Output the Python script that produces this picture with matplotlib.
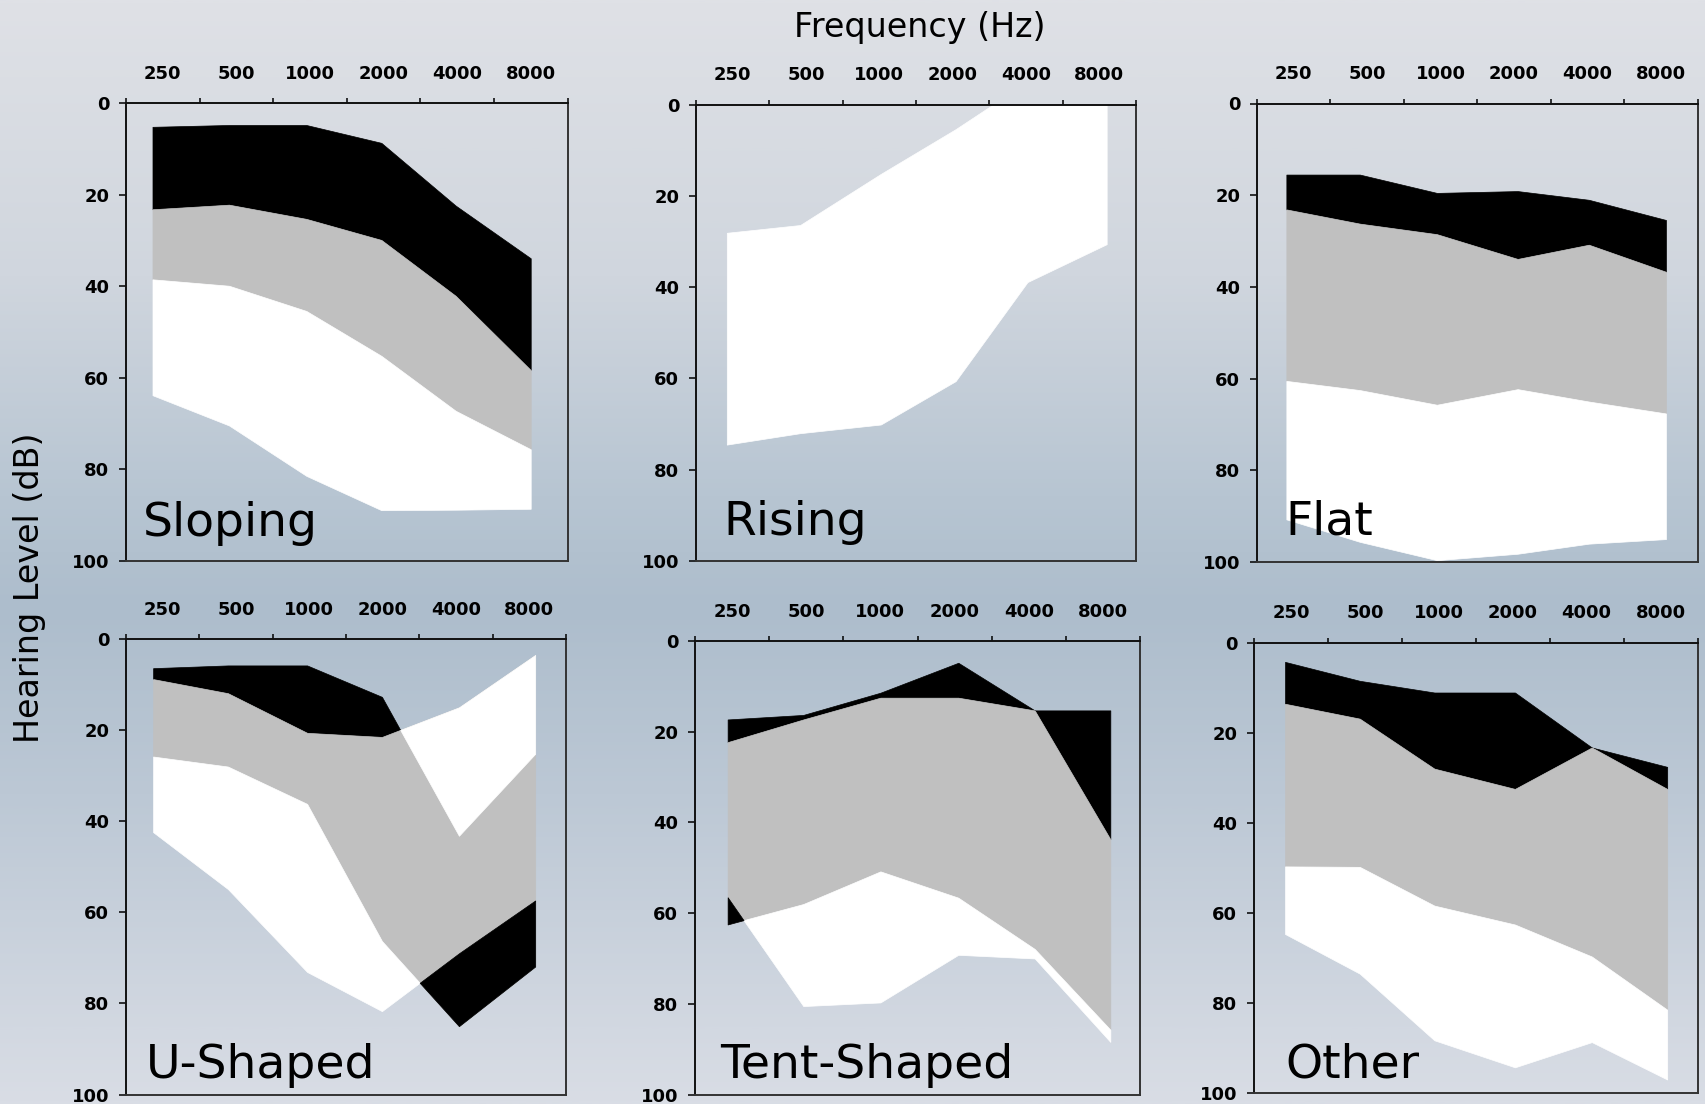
import matplotlib.pyplot as plt
import numpy as np
from matplotlib.colors import LinearSegmentedColormap

FIG_W, FIG_H = 1705, 1104

FREQ_LABELS = ['250', '500', '1000', '2000', '4000', '8000']
DB_TICKS = [0, 20, 40, 60, 80, 100]

# audiogram bands: each panel has x positions (octave slots) and band edges in dB HL
SLOPING_X = [0.36, 1.40, 2.45, 3.47, 4.48, 5.50]
SLOPING_BLACK_TOP = [5.2, 4.8, 4.8, 8.7, 22.4, 33.9]
SLOPING_GRAY_TOP = [23.2, 22.2, 25.3, 29.9, 42.1, 58.3]
SLOPING_WHITE_TOP = [38.5, 39.9, 45.4, 55.2, 67.2, 75.6]
SLOPING_WHITE_BOTTOM = [63.8, 70.4, 81.4, 88.9, 88.8, 88.6]

RISING_X = [0.42, 1.42, 2.52, 3.54, 4.52, 5.60]
RISING_WHITE_TOP = [28.1, 26.4, 15.2, 5.4, -5.0, -15.0]
RISING_WHITE_BOTTOM = [74.5, 72.0, 70.1, 60.6, 38.9, 30.6]

FLAT_X = [0.40, 1.40, 2.45, 3.55, 4.52, 5.57]
FLAT_BLACK_TOP = [15.5, 15.5, 19.5, 19.1, 21.0, 25.4]
FLAT_GRAY_TOP = [23.1, 26.2, 28.5, 33.9, 30.8, 36.7]
FLAT_WHITE_TOP = [60.5, 62.5, 65.7, 62.3, 65.0, 67.6]
FLAT_WHITE_BOTTOM = [90.7, 95.6, 99.6, 98.2, 96.0, 95.0]

USHAPED_X = [0.37, 1.39, 2.47, 3.49, 4.54, 5.58]
USHAPED_BLACK_TOP = [6.4, 5.8, 5.8, 12.7, 43.2, 25.2]
USHAPED_GRAY_TOP = [8.8, 11.9, 20.6, 21.5, 15.0, 3.5]
USHAPED_WHITE_TOP = [25.8, 28.0, 36.2, 66.3, 85.0, 71.9]
USHAPED_WHITE_BOTTOM = [42.4, 54.9, 73.1, 81.7, 69.0, 57.4]

TENT_X = [0.44, 1.46, 2.50, 3.55, 4.58, 5.60]
TENT_BLACK_TOP = [17.3, 16.3, 11.4, 4.8, 15.3, 15.3]
TENT_GRAY_TOP = [22.3, 17.3, 12.5, 12.5, 15.3, 43.7]
TENT_WHITE_TOP = [62.5, 58.0, 50.8, 56.6, 67.9, 85.7]
TENT_WHITE_BOTTOM = [56.5, 80.5, 79.7, 69.2, 70.0, 88.4]

OTHER_X = [0.42, 1.43, 2.44, 3.53, 4.57, 5.59]
OTHER_BLACK_TOP = [4.3, 8.5, 11.1, 11.1, 23.3, 27.6]
OTHER_GRAY_TOP = [13.6, 16.9, 28.0, 32.5, 23.3, 32.5]
OTHER_WHITE_TOP = [49.7, 49.8, 58.4, 62.6, 69.7, 81.5]
OTHER_WHITE_BOTTOM = [64.7, 73.5, 88.3, 94.3, 88.7, 97.0]

GRAY = '#c0c0c0'
THREE_BANDS = [('black', 'white'), (GRAY, GRAY), ('white', 'black')]


def draw_bands(ax, x, edges, fills):
    x = np.asarray(x)
    crossed = []
    for upper, lower, (colour, flipped) in zip(edges[:-1], edges[1:], fills):
        upper = np.asarray(upper, dtype=float)
        lower = np.asarray(lower, dtype=float)
        ax.fill_between(x, upper, lower, where=lower >= upper, interpolate=True,
                        facecolor=colour, edgecolor=colour, lw=0.5, zorder=1)
        if np.any(lower < upper):
            crossed.append((upper, lower, flipped))
    # where two edges swap order the band shows the other colour on top
    for upper, lower, flipped in crossed:
        ax.fill_between(x, upper, lower, where=lower < upper, interpolate=True,
                        facecolor=flipped, edgecolor=flipped, lw=0.5, zorder=2)


def style_axes(ax):
    ax.set_facecolor('none')
    ax.set_xlim(0, 6)
    ax.set_ylim(100, 0)
    ax.xaxis.tick_top()
    ax.set_xticks(np.arange(7))
    ax.set_xticklabels([])
    ax.set_xticks(np.arange(6) + 0.5, minor=True)
    ax.set_xticklabels(FREQ_LABELS, minor=True, fontsize=13, fontweight='bold')
    ax.tick_params(axis='x', which='major', top=True, bottom=False,
                   direction='out', length=3.5, width=1.1)
    ax.tick_params(axis='x', which='minor', top=True, bottom=False,
                   length=0, pad=14.5)
    ax.set_yticks(DB_TICKS)
    ax.set_yticklabels([str(v) for v in DB_TICKS], fontsize=13, fontweight='bold')
    ax.tick_params(axis='y', which='major', direction='out', length=5,
                   width=1.1, pad=7)
    for side in ['left', 'top']:
        ax.spines[side].set_linewidth(1.4)
        ax.spines[side].set_color('#111111')
    for side in ['right', 'bottom']:
        ax.spines[side].set_linewidth(1.4)
        ax.spines[side].set_color('#333333')


def add_axes_px(fig, left, top, right, bottom):
    return fig.add_axes([left / FIG_W, 1 - bottom / FIG_H,
                         (right - left) / FIG_W, (bottom - top) / FIG_H])


fig = plt.figure(figsize=(FIG_W / 100, FIG_H / 100), dpi=100)

# slide-style background gradient
bg = fig.add_axes([0, 0, 1, 1], zorder=-10)
bg_cmap = LinearSegmentedColormap.from_list('slide', [
    (0.0, '#dfe1e6'),
    (0.25, '#d0d6de'),
    (0.45, '#b7c5d2'),
    (0.55, '#adbdcc'),
    (0.72, '#bcc8d5'),
    (1.0, '#d9dde5'),
])
bg.imshow(np.linspace(0, 1, 512).reshape(-1, 1), cmap=bg_cmap, aspect='auto',
          extent=[0, 1, 0, 1], origin='upper')
bg.axis('off')

panels = [
    ('Sloping', (126, 103, 567.5, 561), SLOPING_X,
     [SLOPING_BLACK_TOP, SLOPING_GRAY_TOP, SLOPING_WHITE_TOP, SLOPING_WHITE_BOTTOM],
     THREE_BANDS, (0.23, 94.5)),
    ('Rising', (696, 104.5, 1136, 561), RISING_X,
     [RISING_WHITE_TOP, RISING_WHITE_BOTTOM],
     [('white', 'white')], (0.38, 94.2)),
    ('Flat', (1257, 103.5, 1697.5, 562), FLAT_X,
     [FLAT_BLACK_TOP, FLAT_GRAY_TOP, FLAT_WHITE_TOP, FLAT_WHITE_BOTTOM],
     THREE_BANDS, (0.39, 94.0)),
    ('U-Shaped', (126, 639, 566, 1094.5), USHAPED_X,
     [USHAPED_BLACK_TOP, USHAPED_GRAY_TOP, USHAPED_WHITE_TOP, USHAPED_WHITE_BOTTOM],
     THREE_BANDS, (0.27, 96.4)),
    ('Tent-Shaped', (695, 641, 1140, 1094.5), TENT_X,
     [TENT_BLACK_TOP, TENT_GRAY_TOP, TENT_WHITE_TOP, TENT_WHITE_BOTTOM],
     THREE_BANDS, (0.34, 96.4)),
    ('Other', (1254, 642.5, 1697.5, 1093), OTHER_X,
     [OTHER_BLACK_TOP, OTHER_GRAY_TOP, OTHER_WHITE_TOP, OTHER_WHITE_BOTTOM],
     THREE_BANDS, (0.42, 96.6)),
]

for name, box, x, edges, fills, label_pos in panels:
    ax = add_axes_px(fig, *box)
    style_axes(ax)
    draw_bands(ax, x, edges, fills)
    ax.text(label_pos[0], label_pos[1], name, fontsize=34, ha='left',
            va='baseline', zorder=5)

fig.text(920 / FIG_W, 1 - 37 / FIG_H, 'Frequency (Hz)', fontsize=24,
         ha='center', va='baseline')
fig.text(30 / FIG_W, 1 - 588 / FIG_H, 'Hearing Level (dB)', fontsize=24,
         rotation=90, ha='center', va='center')

fig.savefig('out.png', dpi=100)
